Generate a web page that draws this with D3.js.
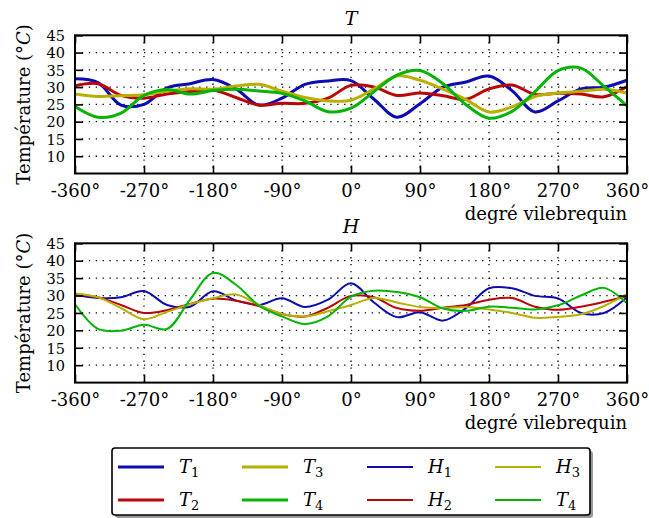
<!DOCTYPE html>
<html><head><meta charset="utf-8">
<script src="https://cdn.jsdelivr.net/npm/d3@7"></script>
<style>
body{margin:0;background:#fff;}
text{font-family:"DejaVu Serif",serif;fill:#000;}
</style></head>
<body><svg id="c" width="649" height="518"></svg>
<script>
const angles = [-360,-330,-300,-270,-240,-210,-180,-150,-120,-90,-60,-30,0,30,60,90,120,150,180,210,240,270,300,330,360];
const xTicks = [-360,-270,-180,-90,0,90,180,270,360];
const yTicks = [10,15,20,25,30,35,40,45];

// Top panel (T)
const T1 = [32.4,31.3,24.8,25.0,29.8,31.0,32.2,29.5,24.8,26.8,30.8,31.8,31.9,26.5,21.3,25.2,30.0,31.5,33.2,29.0,22.8,26.0,29.5,30.0,32.0];
const T2 = [30.4,31.0,27.6,26.8,28.0,28.7,29.2,27.0,24.8,25.3,25.3,26.8,30.5,30.0,27.6,28.3,27.5,26.5,29.5,30.6,27.9,28.2,28.0,27.2,30.2];
const T3 = [28.0,27.3,27.5,27.8,28.8,29.5,29.4,30.3,30.8,28.8,27.0,26.0,26.2,29.5,33.2,32.0,29.4,26.4,22.8,24.3,27.3,28.3,28.8,29.4,28.3];
const T4 = [24.4,21.3,22.5,27.6,29.3,28.0,29.0,29.4,28.9,28.2,26.0,22.9,23.9,28.7,33.5,34.8,31.0,24.9,21.0,23.0,28.7,34.8,35.5,30.2,24.6];
// Bottom panel (H)
const H1 = [30.2,29.3,29.5,31.3,27.3,26.8,31.2,28.6,27.3,29.2,26.7,28.8,33.5,28.0,23.8,25.2,22.8,26.4,32.1,32.1,29.9,29.2,25.0,25.0,29.5];
const H2 = [30.4,29.5,27.3,25.0,25.8,27.6,29.1,28.5,27.0,24.7,24.0,26.5,29.9,29.5,26.4,25.6,26.5,27.3,28.8,29.3,26.8,25.9,26.8,28.2,29.8];
const H3 = [30.6,29.5,26.4,23.2,25.3,27.5,29.2,30.3,27.3,24.7,24.0,25.5,27.3,29.3,28.0,26.7,26.4,26.7,26.0,25.0,23.6,23.9,24.6,27.0,30.4];
const H4 = [27.5,20.4,19.9,21.6,20.4,28.8,36.5,33.1,27.1,24.0,21.8,24.0,29.7,31.4,31.0,29.5,26.3,25.6,26.8,26.5,26.0,27.2,30.0,32.2,27.8];

const colors = {blue:"#0c0cb2", red:"#bb0606", yellow:"#b8b000", green:"#06b406"};
const FONT = "DejaVu Serif";

const svg = d3.select("#c");
const x = d3.scaleLinear().domain([-360,360]).range([75,627]);

function panel(top, bottom, title, series, lw){
  const y = d3.scaleLinear().domain([5,45]).range([bottom, top]);
  const g = svg.append("g");
  // grid
  g.append("g").selectAll("line").data(yTicks.filter(v=>v<45)).join("line")
    .attr("x1",x(-360)).attr("x2",x(360)).attr("y1",d=>y(d)).attr("y2",d=>y(d))
    .attr("stroke","#000").attr("stroke-width",1.3).attr("stroke-dasharray","1.3,5.6");
  g.append("g").selectAll("line").data(xTicks.slice(1,-1)).join("line")
    .attr("x1",d=>x(d)).attr("x2",d=>x(d)).attr("y1",y(45)).attr("y2",y(5))
    .attr("stroke","#000").attr("stroke-width",1.3).attr("stroke-dasharray","1.3,5.6");
  // lines
  const line = d3.line().x((d,i)=>x(angles[i])).y(d=>y(d)).curve(d3.curveCatmullRom.alpha(0.5));
  series.forEach(s=>{
    g.append("path").datum(s.v).attr("d",line).attr("fill","none")
      .attr("stroke",s.c).attr("stroke-width",lw).attr("stroke-linejoin","round");
  });
  // axes
  const fmt = d=>d+"°";
  const ax = g.append("g").attr("transform",`translate(0,${bottom})`)
    .call(d3.axisBottom(x).tickValues(xTicks).tickFormat(fmt).tickSizeInner(-8).tickSizeOuter(0).tickPadding(11));
  const axT = g.append("g").attr("transform",`translate(0,${top})`)
    .call(d3.axisTop(x).tickValues(xTicks).tickFormat("").tickSizeInner(-8).tickSizeOuter(0));
  const ay = g.append("g").attr("transform",`translate(${x(-360)},0)`)
    .call(d3.axisLeft(y).tickValues(yTicks).tickSizeInner(-8).tickSizeOuter(0).tickPadding(10));
  const ayR = g.append("g").attr("transform",`translate(${x(360)},0)`)
    .call(d3.axisRight(y).tickValues(yTicks).tickFormat("").tickSizeInner(-8).tickSizeOuter(0));
  [ax,axT,ay,ayR].forEach(a=>{
    a.select(".domain").remove();
    a.selectAll(".tick line").attr("stroke","#000").attr("stroke-width",1.6);
    a.selectAll("text").attr("font-family",FONT).attr("font-size",18).attr("fill","#000");
  });
  ay.selectAll("text").attr("font-size",14.5).attr("dy","0.36em");
  // frame
  g.append("rect").attr("x",x(-360)).attr("y",top).attr("width",x(360)-x(-360)).attr("height",bottom-top)
    .attr("fill","none").attr("stroke","#000").attr("stroke-width",2);
  // title
  g.append("text").attr("x",x(0)).attr("y",top-10).attr("text-anchor","middle")
    .attr("font-size",19).attr("font-style","italic").text(title);
  // x label
  g.append("text").attr("x",x(360)).attr("y",bottom+46).attr("text-anchor","end")
    .attr("font-size",18).text("degré vilebrequin");
  // y label
  const yl = g.append("text").attr("transform",`translate(30,${(top+bottom)/2}) rotate(-90)`)
    .attr("text-anchor","middle").attr("font-size",18);
  yl.append("tspan").text("Température (°");
  yl.append("tspan").attr("font-style","italic").text("C");
  yl.append("tspan").text(")");
}

panel(35.3, 173.5, "T", [
  {v:T1,c:colors.blue},{v:T2,c:colors.red},{v:T3,c:colors.yellow},{v:T4,c:colors.green}], 3);
panel(243.3, 382.6, "H", [
  {v:H1,c:colors.blue},{v:H2,c:colors.red},{v:H3,c:colors.yellow},{v:H4,c:colors.green}], 2);

// legend
const legendNames = ["T","T","T","T","H","H","H","T"];
const legendSubs = ["1","2","3","4","1","2","3","4"];
const legendColors = [colors.blue,colors.red,colors.yellow,colors.green,colors.blue,colors.red,colors.yellow,colors.green];
const legendWidths = [3,3,3,3,2,2,2,2];
const colX = [118,242,367,495];
const rowY = [467,500];
const lg = svg.append("g");
lg.append("rect").attr("x",115).attr("y",451).attr("width",478).attr("height",67).attr("rx",3)
  .attr("fill","#999").attr("stroke","none");
lg.append("rect").attr("x",112).attr("y",448).attr("width",478).attr("height",67).attr("rx",3)
  .attr("fill","#fff").attr("stroke","#000").attr("stroke-width",1.6);
legendNames.forEach((n,i)=>{
  const cx = colX[Math.floor(i/2)], cy = rowY[i%2];
  lg.append("line").attr("x1",cx).attr("x2",cx+46).attr("y1",cy).attr("y2",cy)
    .attr("stroke",legendColors[i]).attr("stroke-width",legendWidths[i]);
  const t = lg.append("text").attr("x",cx+61).attr("y",cy+6).attr("font-size",18);
  t.append("tspan").attr("font-style","italic").text(n);
  t.append("tspan").attr("font-size",13).attr("dy",4).text(legendSubs[i]);
});
</script></body></html>
